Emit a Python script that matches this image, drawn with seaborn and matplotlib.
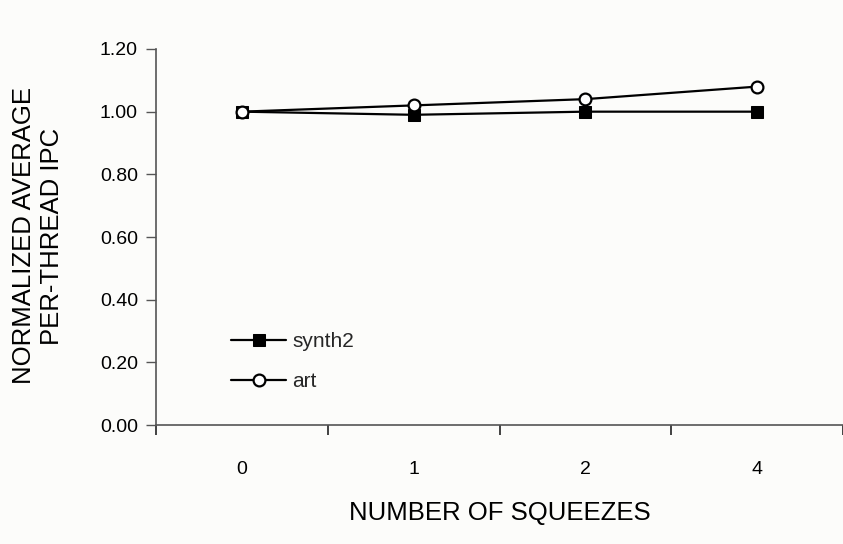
import matplotlib
matplotlib.use("Agg")
import matplotlib.pyplot as plt
import seaborn as sns
import pandas as pd

# ---- data ----
squeezes = ["0", "1", "2", "4"]
synth2 = [1.00, 0.99, 1.00, 1.00]
art = [1.00, 1.02, 1.04, 1.08]
y_ticks = [0.00, 0.20, 0.40, 0.60, 0.80, 1.00, 1.20]

sns.set_theme(style="white")
plt.rcParams["font.family"] = ["Liberation Sans", "DejaVu Sans"]

W, H = 843, 544
fig = plt.figure(figsize=(W / 100, H / 100), dpi=100, facecolor="#fcfcfa")
ax = fig.add_axes([156 / W, (H - 425) / H, (843 - 156) / W, (425 - 49) / H])
ax.set_facecolor("#fcfcfa")

df1 = pd.DataFrame({"x": squeezes, "y": synth2})
df2 = pd.DataFrame({"x": squeezes, "y": art})

sns.lineplot(data=df1, x="x", y="y", ax=ax, color="black", lw=1.6,
             marker="s", markersize=9, markerfacecolor="black",
             markeredgecolor="black", label="synth2")
sns.lineplot(data=df2, x="x", y="y", ax=ax, color="black", lw=1.6,
             marker="o", markersize=8.5, markerfacecolor="white",
             markeredgecolor="black", markeredgewidth=1.6, label="art")

ax.set_xlim(-0.5, len(squeezes) - 0.5)
ax.set_ylim(0, 1.2)
ax.set_yticks(y_ticks)
ax.set_yticklabels([f"{v:.2f}" for v in y_ticks])
ax.set_xticks(range(len(squeezes)))
ax.set_xticklabels(squeezes)
ax.set_xticks([i - 0.5 for i in range(len(squeezes) + 1)], minor=True)

fs_tick = 14
fs_title = 18.5
fs_leg = 15
ax.tick_params(axis="x", which="major", length=0, pad=26, labelsize=fs_tick, labelcolor="black")
ax.tick_params(axis="x", which="minor", length=7, width=1.2, color="#222222", direction="out", bottom=True)
ax.tick_params(axis="y", which="major", length=7, width=1, color="#555555", direction="out",
               left=True, pad=6, labelsize=fs_tick, labelcolor="black")

for s in ["top", "right"]:
    ax.spines[s].set_visible(False)
for s in ["left", "bottom"]:
    ax.spines[s].set_color("#555555")
    ax.spines[s].set_linewidth(1.2)

ax.set_xlabel("NUMBER OF SQUEEZES", fontsize=fs_title, color="black")
ax.xaxis.label.set_va("center")
ax.xaxis.set_label_coords(499.5 / W, 1 - 513 / H, transform=fig.transFigure)

ax.set_ylabel("NORMALIZED AVERAGE\nPER-THREAD IPC", fontsize=fs_title, color="black",
              linespacing=1.2)
ax.yaxis.label.set_va("center")
ax.yaxis.set_label_coords(38 / W, 1 - 236 / H, transform=fig.transFigure)

ax.legend(frameon=False, loc="upper left", bbox_to_anchor=(231 / W, 1 - 332 / H),
          bbox_transform=fig.transFigure, borderpad=0, borderaxespad=0,
          handlelength=2.65, handletextpad=0.3, labelspacing=1.0, fontsize=fs_leg)

fig.savefig("out.png", dpi=100, facecolor=fig.get_facecolor())
